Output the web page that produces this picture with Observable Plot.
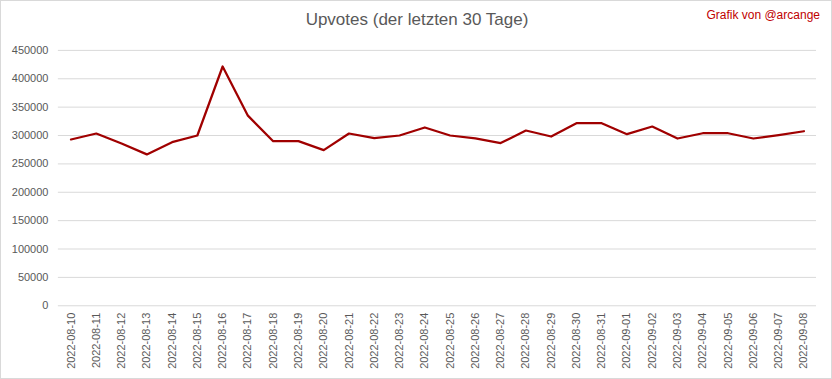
<!DOCTYPE html>
<html>
<head>
<meta charset="utf-8">
<script src="https://cdn.jsdelivr.net/npm/d3@7"></script>
<script src="https://cdn.jsdelivr.net/npm/@observablehq/plot@0.6"></script>
<style>
  html, body { margin: 0; padding: 0; background: #fff; }
  #chart { position: relative; width: 832px; height: 379px; box-sizing: border-box; border: 1px solid #d9d9d9; overflow: hidden; font-family: "Liberation Sans", Arial, sans-serif; }
  #chart svg { position: absolute; left: -1px; top: -1px; }
  #title { position: absolute; left: 0; width: 832px; top: 9px; text-align: center; font-size: 17px; color: #595959; z-index: 2; }
  #credit { position: absolute; right: 11px; top: 7px; font-size: 12px; color: #c00000; z-index: 2; }
</style>
</head>
<body>
<div id="chart">
  <div id="title">Upvotes (der letzten 30 Tage)</div>
  <div id="credit">Grafik von @arcange</div>
</div>
<script>
const dates = ["2022-08-10","2022-08-11","2022-08-12","2022-08-13","2022-08-14","2022-08-15","2022-08-16","2022-08-17","2022-08-18","2022-08-19","2022-08-20","2022-08-21","2022-08-22","2022-08-23","2022-08-24","2022-08-25","2022-08-26","2022-08-27","2022-08-28","2022-08-29","2022-08-30","2022-08-31","2022-09-01","2022-09-02","2022-09-03","2022-09-04","2022-09-05","2022-09-06","2022-09-07","2022-09-08"];
const upvotes = [293000, 303500, 286000, 266700, 288300, 300000, 421600, 335000, 290000, 290000, 274200, 303500, 295300, 300000, 314200, 300000, 295000, 286600, 308800, 298200, 321600, 321600, 302300, 315800, 294700, 304000, 304000, 294700, 300600, 307500];
const yTicks = [0, 50000, 100000, 150000, 200000, 250000, 300000, 350000, 400000, 450000];

const data = dates.map((d, i) => ({date: d, value: upvotes[i]}));

const chart = Plot.plot({
  width: 832,
  height: 379,
  marginLeft: 58,
  marginRight: 14,
  marginTop: 50,
  marginBottom: 73,
  style: { fontFamily: "Liberation Sans, Arial, sans-serif", fontSize: "11px", color: "#595959", background: "transparent" },
  x: { type: "point", domain: dates, padding: 0.5, round: false, label: null },
  y: { domain: [0, 450000], label: null },
  marks: [
    Plot.gridY(yTicks, { stroke: "#d9d9d9", strokeOpacity: 1, strokeWidth: 1 }),
    Plot.axisY(yTicks, { tickSize: 0, tickPadding: 10, tickFormat: d => String(d), label: null, fill: "#595959" }),
    Plot.axisX(dates, { tickSize: 0, tickPadding: 7, tickRotate: -90, label: null, fill: "#595959" }),
    Plot.line(data, { x: "date", y: "value", stroke: "#a00000", strokeWidth: 2.25, curve: "linear" })
  ]
});
document.getElementById("chart").appendChild(chart);
</script>
</body>
</html>
